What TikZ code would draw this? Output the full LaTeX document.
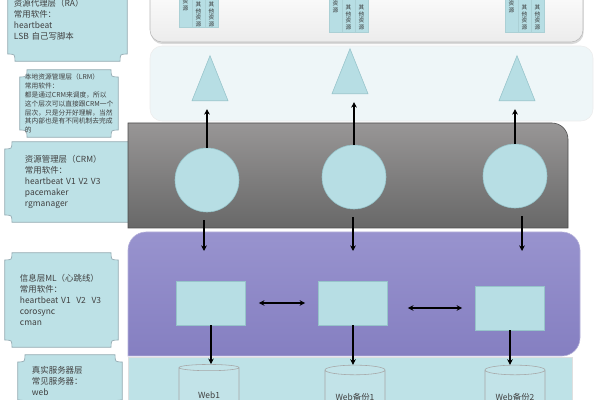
\documentclass[tikz,border=0pt]{standalone}
\usepackage{fontspec}
\setmainfont{Noto Sans CJK SC}
\usetikzlibrary{shapes.geometric, arrows.meta, shadows, backgrounds}

\definecolor{paleblue}{RGB}{189,225,230}
\definecolor{boxline}{RGB}{150,172,180}
\definecolor{shapefill}{RGB}{183,222,228}
\definecolor{shapeline}{RGB}{150,196,202}
\definecolor{crmtop}{RGB}{152,150,150}
\definecolor{crmbot}{RGB}{104,104,104}
\definecolor{mltop}{RGB}{152,147,206}
\definecolor{mlfill}{RGB}{133,127,193}
\definecolor{lrmfill}{RGB}{238,246,248}
\definecolor{rsfill}{RGB}{190,226,231}

% plaque with cut-in corners round a named node
\newcommand{\plaque}[1]{%
  \draw[plaqueline] ([xshift=0.18cm]#1.north west) -- ([xshift=-0.18cm]#1.north east)
    .. controls ([xshift=-0.18cm, yshift=-0.18cm]#1.north east) .. ([yshift=-0.18cm]#1.north east)
    -- ([yshift=0.18cm]#1.south east)
    .. controls ([xshift=-0.18cm, yshift=0.18cm]#1.south east) .. ([xshift=-0.18cm]#1.south east)
    -- ([xshift=0.18cm]#1.south west)
    .. controls ([xshift=0.18cm, yshift=0.18cm]#1.south west) .. ([yshift=0.18cm]#1.south west)
    -- ([yshift=-0.18cm]#1.north west)
    .. controls ([xshift=0.18cm, yshift=-0.18cm]#1.north west) .. ([xshift=0.18cm]#1.north west)
    -- cycle;}

\begin{document}
\begin{tikzpicture}[
      x=0.025cm, y=-0.025cm,
      info/.style={rectangle, text=black!75, align=left, inner sep=0pt,
        font=\fontsize{6}{7.8}\selectfont},
      plaqueline/.style={draw=boxline, fill=paleblue, line width=0.5pt},
      tri/.style={isosceles triangle, isosceles triangle stretches,
        shape border rotate=90, minimum width=0.9cm, minimum height=1.125cm,
        fill=shapefill, draw=shapeline, inner sep=0pt},
      res/.style={circle, minimum size=1.6cm, fill=shapefill, draw=shapeline,
        inner sep=0pt},
      msg/.style={rectangle, minimum width=1.725cm, minimum height=1.1cm,
        fill=shapefill, draw=shapeline},
      server/.style={cylinder, shape border rotate=90, aspect=0.2,
        minimum width=1.5cm, minimum height=1.4cm, fill=shapefill!85,
        draw=gray!70, text=black!75, font=\fontsize{6}{7}\selectfont},
      col/.style={rectangle, anchor=south, minimum width=0.325cm,
        minimum height=1.5cm, inner sep=0pt, fill=shapefill, draw=shapeline!80},
      coltext/.style={anchor=south, inner sep=0pt, align=center, text=black!80,
        font=\fontsize{4}{4.6}\selectfont},
      line/.style={draw, -{Stealth[length=4pt, width=4pt]}, line width=0.8pt},
      dline/.style={draw, {Stealth[length=4pt, width=4pt]}-{Stealth[length=4pt, width=4pt]},
        line width=0.8pt}
    ]
    \useasboundingbox (0,0) rectangle (600,400);
    \clip (0,0) rectangle (600,400);

    % layers
    \draw[rounded corners=0.3cm, top color=white, bottom color=gray!15, draw=gray!55,
      drop shadow={opacity=0.3, shadow xshift=0.5pt, shadow yshift=-1.5pt}]
      (150,-20) rectangle (583,42);
    \draw[rounded corners=0.3cm, fill=lrmfill, draw=gray!15] (150,46) rectangle (593,121);
    \draw[draw=gray!60!black, top color=crmtop, bottom color=crmbot]
      (128,228) -- (128,123) [rounded corners=0.4cm] -- (568,123) [sharp corners]
      -- (568,228) -- cycle;
    \draw[draw=mlfill!60!white, top color=mltop, bottom color=mlfill]
      (128,356) [rounded corners=0.45cm] -- (128,232) -- (580,232) -- (580,356)
      [sharp corners] -- cycle;
    \draw[fill=rsfill, draw=gray!25] (128,357) rectangle (572,420);

    % left notes
    \node[info, minimum width=2.975cm, minimum height=2.05cm, text width=2.675cm]
      (ra) at (67.5,20) {资源代理层（RA）\\常用软件：\\heartbeat\\LSB 自己写脚本};
    \node[info, minimum width=2.45cm, minimum height=1.675cm, text width=2.2cm,
      font=\fontsize{4.8}{6.3}\selectfont]
      (lrm) at (69,103.5) {本地资源管理层（LRM）\\常用软件：\\都是通过CRM来调度，所以\\
      这个层次可以直接跟CRM一个\\层次，只是分开好理解，当然\\其内部也是有不同机制去完成\\的};
    \node[info, minimum width=3.325cm, minimum height=2cm, text width=2.325cm]
      (crm) at (71.5,182) {资源管理层（CRM）\\常用软件：\\heartbeat V1 V2 V3\\pacemaker\\rgmanager};
    \node[info, minimum width=2.825cm, minimum height=2.35cm, text width=2.075cm]
      (ml) at (61.5,300) {信息层ML（心跳线）\\常用软件：\\heartbeat V1~~V2~~V3\\corosync\\cman};
    \node[info, minimum width=2.6cm, minimum height=1.3cm, text width=1.9cm]
      (rs) at (70,381) {真实服务器层\\常见服务器：\\web};
    \begin{scope}[on background layer]
      \plaque{ra} \plaque{lrm} \plaque{crm} \plaque{ml} \plaque{rs}
    \end{scope}

    % resource columns (RA)
    \foreach \x/\b/\sa/\sb [count=\i] in {179/28/17/1, 329/33/20/3, 505/33/20/3} {
      \node[col] (g\i a) at (\x+6.5,\b) {};
      \node[col] (g\i b) at (\x+19.5,\b) {};
      \node[col] (g\i c) at (\x+32.5,\b) {};
      \node[coltext] (s\i a) at ([yshift=\sa*0.025cm]g\i a.south) {资\\源};
      \node[coltext] (s\i b) at ([yshift=\sb*0.025cm]g\i b.south) {其\\他\\资\\源};
      \node[coltext] (s\i c) at ([yshift=\sb*0.025cm]g\i c.south) {其\\他\\资\\源};
    }

    % LRM
    \node[tri, anchor=apex] (t1) at (210,55) {};
    \node[tri, anchor=apex] (t2) at (350,48) {};
    \node[tri, anchor=apex] (t3) at (517,55) {};

    % CRM
    \node[res] (c1) at (207,180) {};
    \node[res] (c2) at (354,177) {};
    \node[res] (c3) at (515,176) {};

    % ML
    \node[msg] (r1) at (211,303) {};
    \node[msg] (r2) at (353,303) {};
    \node[msg] (r3) at (510,308) {};

    % servers
    \node[server] (w1) at (209,395) {Web1};
    \node[server] (w2) at (355,397) {Web备份1};
    \node[server] (w3) at (515,397) {Web备份2};

    \coordinate (d1) at (204,251);
    \coordinate (d2) at (353,251);
    \coordinate (d3) at (522,251);

    \path [line, shorten >=0.2cm] (c1.north) -- (c1.north |- t1.left corner);
    \path [line, shorten >=0.2cm] (c2.north) -- (c2.north |- t2.left corner);
    \path [line, shorten >=0.2cm] (c3.north) -- (c3.north |- t3.left corner);
    \path [line, shorten <=0.2cm] (d1 |- c1.south) -- (d1);
    \path [line, shorten <=0.2cm] (d2 |- c2.south) -- (d2);
    \path [line, shorten <=0.2cm] (d3 |- c3.south) -- (d3);
    \path [dline, shorten <=0.325cm, shorten >=0.325cm] (r1) -- (r2);
    \path [dline, shorten <=0.5cm, shorten >=0.325cm] (r3.west -| r2.east) -- (r3.west);
    \path [line] (r1.south) -- (r1.south |- w1.north);
    \path [line] (r2.south) -- (r2.south |- w2.north);
    \path [line] (r3.south) -- (r3.south |- w3.north);
  \end{tikzpicture}
\end{document}
